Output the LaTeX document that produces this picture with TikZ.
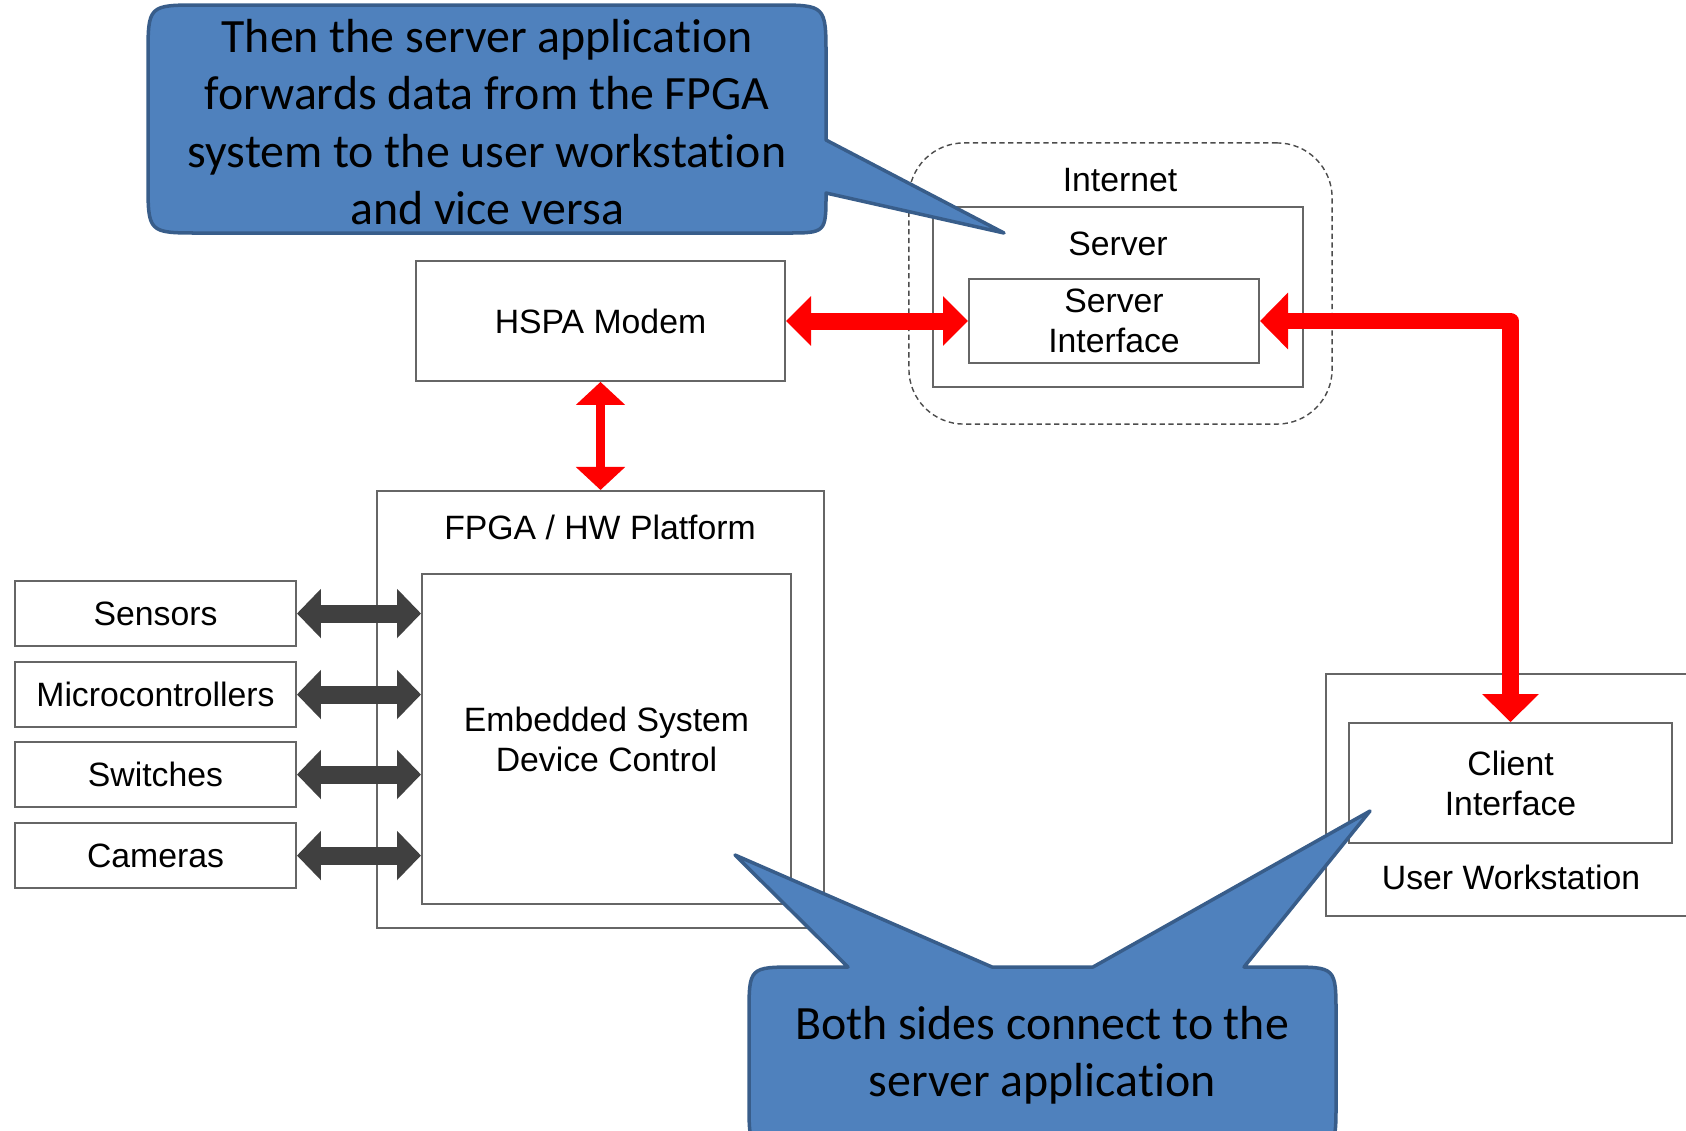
\documentclass[tikz,border=0pt]{standalone}
\usepackage{fontspec}
\setmainfont{Liberation Sans}
\newfontfamily\callfamily[Ligatures=NoCommon]{Carlito}
\usetikzlibrary{arrows.meta}
\definecolor{callblue}{HTML}{4F81BD}
\definecolor{calledge}{HTML}{385D8A}
\definecolor{darkgrey}{HTML}{404040}
\newcommand\boxfont{\fontsize{9.6}{11.4}\selectfont}
\newcommand\callfont{\callfamily\fontsize{13.6}{16.3}\selectfont}
\begin{document}
\begin{tikzpicture}[x=0.01cm,y=-0.01cm,
    box/.style={draw=black!60,line width=0.5pt,inner sep=0pt,align=center,font=\boxfont},
    lbl/.style={inner sep=0pt,anchor=base,font=\boxfont},
    redarrow/.style={draw=red,line width=0.17cm,arrows={Triangle[width=0.48cm,length=0.25cm]-Triangle[width=0.48cm,length=0.25cm]}},
    thinred/.style={draw=red,line width=0.09cm,arrows={Triangle[width=0.48cm,length=0.23cm]-Triangle[width=0.48cm,length=0.23cm]}},
    longred/.style={draw=red,line width=0.165cm,line join=round,arrows={Triangle[width=0.55cm,length=0.28cm]-Triangle[width=0.55cm,length=0.28cm]}},
    darkarrow/.style={draw=darkgrey,line width=0.18cm,arrows={Triangle[width=0.48cm,length=0.24cm]-Triangle[width=0.48cm,length=0.24cm]}},
    bubble/.style={fill=callblue,draw=calledge,line width=0.035cm,line join=round},
    bubbletext/.style={inner sep=0pt,align=center,font=\callfont}]
    \useasboundingbox (0,0) rectangle (1686,1130);
    %% internet and server
    \node[draw=black!70,line width=0.4pt,dash pattern=on 1.5pt off 1pt,rounded corners=0.55cm,
          minimum width=4.23cm,minimum height=2.81cm] (inet) at (1120.5,283.5) {};
    \node[lbl] at (1120,191) {Internet};
    \node[box,minimum width=3.70cm,minimum height=1.80cm] (server) at (1117.75,297) {};
    \node[lbl] at (1118,255) {Server};
    \node[box,minimum width=2.90cm,minimum height=0.84cm] (si) at (1114,321) {Server\\Interface};
    %% modem
    \node[box,minimum width=3.69cm,minimum height=1.20cm] (hspa) at (600.5,321) {HSPA Modem};
    %% FPGA platform
    \node[box,minimum width=4.47cm,minimum height=4.37cm] (fpga) at (600.5,709.5) {};
    \node[lbl] at (600,539) {FPGA / HW Platform};
    \node[box,minimum width=3.69cm,minimum height=3.30cm] (emb) at (606.5,739) {Embedded System\\Device Control};
    %% devices
    \foreach \nm/\txt/\yy in {sens/Sensors/613.5,micro/Microcontrollers/694.5,swit/Switches/774.5,cam/Cameras/855.5}{
        \node[box,minimum width=2.81cm,minimum height=0.65cm] (\nm) at (155.5,\yy) {\txt};
        \draw[darkarrow] (\nm.east) -- (\nm.east -| emb.west);
    }
    %% user workstation
    \node[box,minimum width=3.94cm,minimum height=2.42cm] (uw) at (1523,795) {};
    \node[lbl] at (1511,889) {User Workstation};
    \node[box,minimum width=3.23cm,minimum height=1.20cm] (client) at (1510.5,783) {Client\\Interface};
    %% links
    \draw[redarrow] (hspa.east) -- (si.west);
    \draw[thinred] (hspa.south) -- (fpga.north);
    \draw[longred] (si.east) -- (client.north |- si.east) -- (client.north);
    %% callouts
    \draw[bubble] (200,5) -- (774,5) .. controls (826,5) .. (826,57) -- (826,140) -- (1004,233) -- (826,193)
        .. controls (826,233) .. (786,233) -- (200,233) .. controls (148,233) .. (148,181)
        -- (148,57) .. controls (148,5) .. (200,5) -- cycle;
    \node[bubbletext] (note1) at (487,122) {Then the server application\\forwards data from the FPGA\\system to the user workstation\\and vice versa};
    \draw[bubble] (797,967) -- (848,967) -- (735,855) -- (992,967) -- (1093,967) -- (1370,811) -- (1244,967)
        -- (1288,967) .. controls (1336,967) .. (1336,1015) -- (1336,1102) .. controls (1336,1150) .. (1288,1150)
        -- (797,1150) .. controls (749,1150) .. (749,1102) -- (749,1015) .. controls (749,967) .. (797,967) -- cycle;
    \node[bubbletext] (note2) at (1042,1055) {Both sides connect to the\\server application};
\end{tikzpicture}
\end{document}
